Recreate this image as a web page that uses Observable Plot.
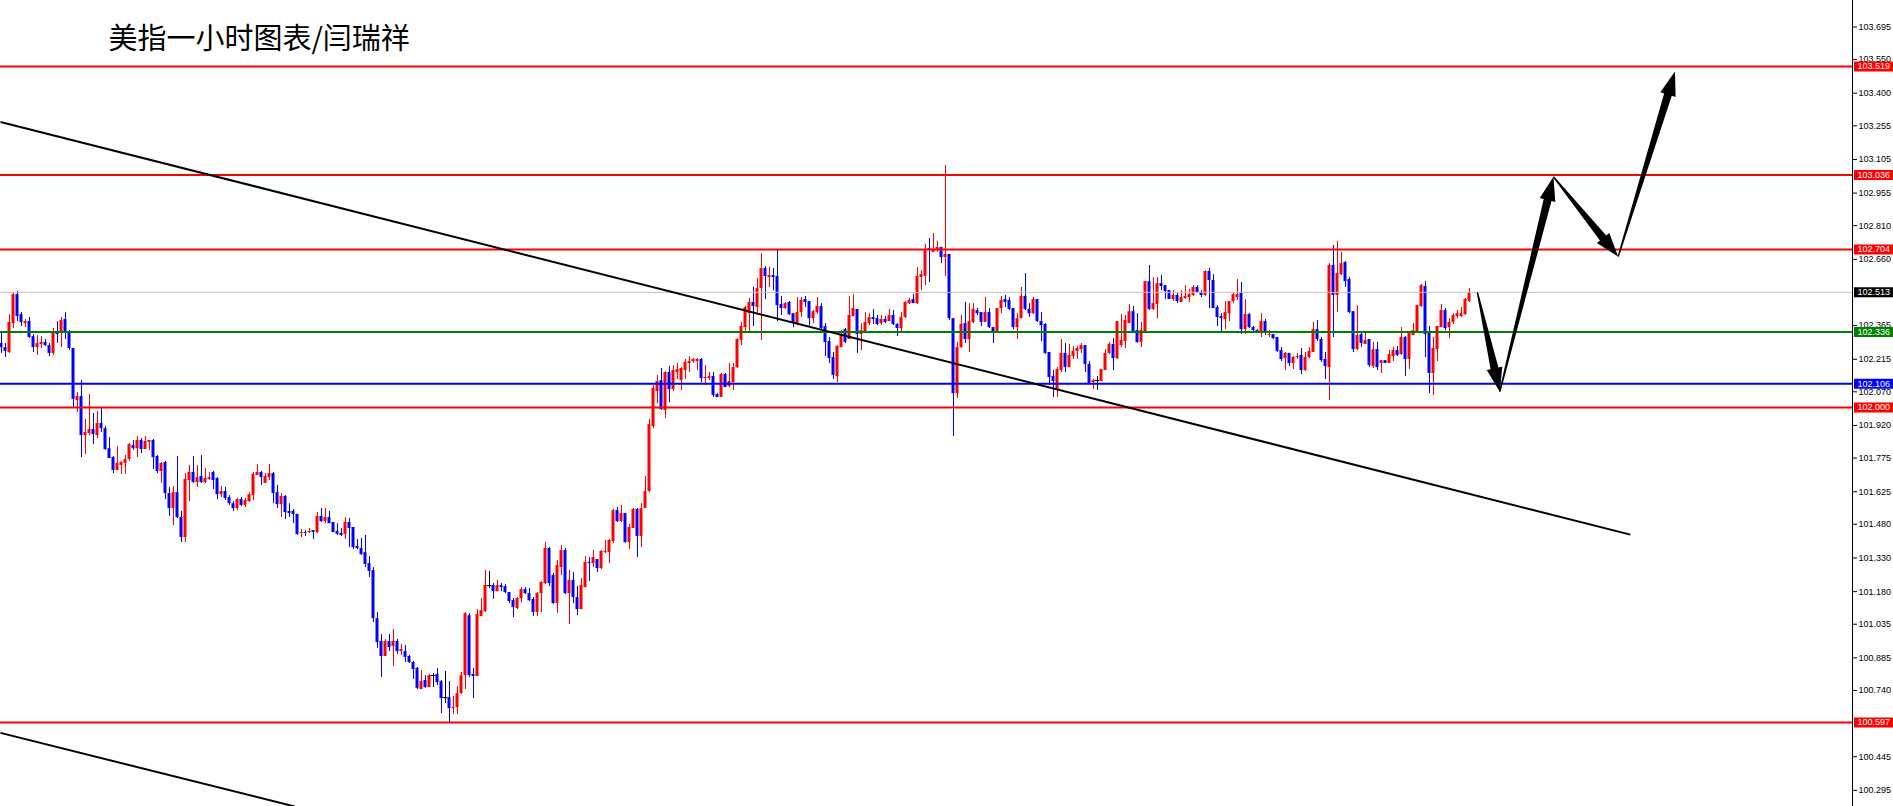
<!DOCTYPE html>
<html><head><meta charset="utf-8">
<script src="https://cdn.jsdelivr.net/npm/d3@7"></script>
<script src="https://cdn.jsdelivr.net/npm/@observablehq/plot@0.6"></script>
<style>
html,body{margin:0;padding:0;background:#fff;overflow:hidden}
#chart{position:relative;width:1893px;height:806px}
</style></head><body><div id="chart"></div>
<script>
const title = "美指一小时图表/闫瑞祥";

// hourly candles, oldest first
const opens = [
102.285,102.267,102.245,102.374,102.503,102.414,102.374,102.383,102.316,102.267,
102.281,102.290,102.276,102.241,102.334,102.330,102.392,102.334,102.263,102.031,
102.049,101.875,101.884,101.902,101.875,101.929,101.906,101.817,101.777,101.720,
101.742,101.751,101.769,101.831,101.817,101.853,101.813,101.844,101.853,101.782,
101.715,101.755,101.617,101.550,101.621,101.510,101.421,101.675,101.711,101.666,
101.693,101.666,101.680,101.711,101.684,101.612,101.626,101.599,101.572,101.550,
101.590,101.564,101.581,101.608,101.697,101.711,101.662,101.688,101.706,101.621,
101.568,101.604,101.537,101.537,101.524,101.439,101.443,101.443,101.452,101.443,
101.515,101.492,101.510,101.488,101.448,101.439,101.435,101.488,101.466,101.381,
101.372,101.354,101.305,101.274,101.060,100.958,100.891,100.958,100.936,100.958,
100.913,100.913,100.891,100.864,100.838,100.744,100.784,100.753,100.806,100.811,
100.780,100.708,100.708,100.659,100.664,100.726,100.806,101.073,100.811,100.802,
101.069,101.091,101.207,101.207,101.180,101.207,101.203,101.176,101.140,101.105,
101.149,101.189,101.171,101.145,101.087,101.171,101.216,101.372,101.252,101.127,
101.287,101.363,101.171,101.230,101.154,101.100,101.198,101.310,101.305,101.323,
101.283,101.354,101.354,101.403,101.541,101.492,101.528,101.399,101.461,101.546,
101.426,101.550,101.626,101.915,102.071,102.120,101.987,102.156,102.080,102.156,
102.120,102.165,102.196,102.205,102.205,102.214,102.129,102.129,102.138,102.058,
102.045,102.147,102.094,102.111,102.178,102.299,102.356,102.418,102.468,102.446,
102.530,102.619,102.579,102.588,102.584,102.459,102.441,102.468,102.418,102.370,
102.423,102.481,102.472,102.396,102.423,102.450,102.361,102.294,102.223,102.138,
102.267,102.347,102.303,102.405,102.437,102.325,102.330,102.374,102.401,102.396,
102.374,102.392,102.383,102.410,102.370,102.352,102.401,102.463,102.481,102.463,
102.579,102.584,102.708,102.691,102.704,102.713,102.668,102.682,102.396,102.062,
102.267,102.374,102.303,102.379,102.432,102.423,102.379,102.423,102.356,102.334,
102.441,102.481,102.477,102.441,102.356,102.396,102.495,102.437,102.418,102.481,
102.383,102.370,102.245,102.138,102.076,102.165,102.241,102.178,102.227,102.250,
102.258,102.276,102.192,102.111,102.120,102.116,102.165,102.241,102.281,102.218,
102.276,102.294,102.374,102.427,102.343,102.290,102.334,102.561,102.437,102.459,
102.552,102.543,102.521,102.481,102.499,102.468,102.486,102.490,102.499,102.535,
102.512,102.499,102.606,102.566,102.446,102.405,102.392,102.418,102.472,102.490,
102.512,102.347,102.414,102.356,102.343,102.334,102.383,102.321,102.325,102.312,
102.254,102.218,102.241,102.196,102.223,102.232,102.165,102.223,102.245,102.347,
102.303,102.214,102.178,102.633,102.499,102.592,102.646,102.570,102.427,102.258,
102.325,102.281,102.303,102.183,102.258,102.196,102.209,102.196,102.227,102.254,
102.236,102.312,102.214,102.321,102.334,102.450,102.539,102.330,102.152,102.258,
102.356,102.432,102.356,102.379,102.405,102.405,102.414,102.472];
const highs = [
102.334,102.285,102.414,102.508,102.517,102.423,102.392,102.401,102.325,102.321,
102.316,102.303,102.285,102.352,102.383,102.401,102.423,102.343,102.263,102.067,
102.120,101.947,102.058,101.973,101.982,102.000,101.915,101.866,101.782,101.826,
101.760,101.786,101.840,101.853,101.871,101.862,101.871,101.853,101.858,101.786,
101.755,101.760,101.644,101.648,101.782,101.537,101.706,101.742,101.782,101.742,
101.786,101.728,101.711,101.715,101.688,101.648,101.644,101.608,101.581,101.595,
101.599,101.595,101.621,101.711,101.746,101.715,101.706,101.746,101.711,101.653,
101.617,101.608,101.572,101.546,101.524,101.457,101.452,101.461,101.452,101.532,
101.550,101.550,101.537,101.488,101.483,101.461,101.510,101.506,101.466,101.412,
101.417,101.430,101.336,101.287,101.087,100.989,100.967,100.989,101.011,100.967,
100.944,100.940,100.896,100.869,100.842,100.829,100.806,100.811,100.815,100.838,
100.784,100.824,100.780,100.713,100.757,100.820,101.087,101.082,100.838,101.100,
101.149,101.274,101.270,101.216,101.230,101.216,101.212,101.176,101.149,101.154,
101.198,101.198,101.194,101.154,101.176,101.225,101.399,101.376,101.261,101.319,
101.385,101.372,101.274,101.265,101.203,101.238,101.336,101.332,101.363,101.323,
101.363,101.408,101.412,101.546,101.555,101.564,101.528,101.479,101.550,101.550,
101.572,101.693,101.947,102.098,102.143,102.174,102.160,102.183,102.187,102.196,
102.178,102.214,102.227,102.218,102.218,102.218,102.187,102.156,102.156,102.062,
102.152,102.152,102.196,102.196,102.307,102.379,102.450,102.486,102.535,102.575,
102.686,102.628,102.624,102.619,102.704,102.495,102.468,102.472,102.418,102.490,
102.490,102.495,102.472,102.432,102.490,102.463,102.374,102.312,102.245,102.276,
102.343,102.352,102.495,102.503,102.437,102.374,102.423,102.418,102.437,102.410,
102.410,102.405,102.437,102.432,102.374,102.423,102.472,102.486,102.503,102.624,
102.610,102.726,102.753,102.775,102.740,102.713,103.078,102.682,102.396,102.290,
102.410,102.468,102.463,102.463,102.441,102.423,102.490,102.441,102.356,102.441,
102.495,102.499,102.490,102.441,102.418,102.535,102.597,102.463,102.490,102.481,
102.423,102.374,102.245,102.165,102.178,102.303,102.285,102.281,102.272,102.272,
102.285,102.276,102.205,102.125,102.138,102.169,102.258,102.290,102.307,102.383,
102.414,102.410,102.459,102.450,102.418,102.379,102.561,102.633,102.579,102.579,
102.588,102.543,102.521,102.521,102.508,102.521,102.543,102.526,102.543,102.543,
102.521,102.610,102.619,102.592,102.454,102.418,102.472,102.472,102.512,102.570,
102.557,102.481,102.418,102.361,102.347,102.418,102.392,102.343,102.325,102.312,
102.267,102.245,102.241,102.227,102.241,102.263,102.245,102.267,102.379,102.388,
102.312,102.245,102.641,102.722,102.740,102.691,102.650,102.579,102.427,102.454,
102.330,102.330,102.303,102.290,102.290,102.209,102.209,102.254,102.267,102.272,
102.356,102.316,102.334,102.374,102.454,102.548,102.561,102.361,102.312,102.361,
102.459,102.441,102.396,102.418,102.432,102.446,102.486,102.530];
const lows = [
102.241,102.223,102.241,102.352,102.383,102.361,102.356,102.307,102.245,102.232,
102.263,102.272,102.227,102.232,102.285,102.267,102.303,102.254,102.000,101.978,
101.777,101.791,101.875,101.835,101.862,101.889,101.809,101.773,101.706,101.720,
101.702,101.702,101.760,101.809,101.777,101.795,101.813,101.809,101.724,101.706,
101.662,101.590,101.515,101.474,101.506,101.399,101.399,101.581,101.662,101.644,
101.662,101.662,101.675,101.635,101.590,101.599,101.586,101.564,101.537,101.541,
101.559,101.555,101.577,101.586,101.697,101.653,101.662,101.675,101.572,101.550,
101.510,101.501,101.510,101.483,101.430,101.421,101.426,101.439,101.412,101.439,
101.488,101.483,101.483,101.443,101.430,101.426,101.412,101.376,101.367,101.367,
101.341,101.287,101.243,101.042,100.927,100.798,100.891,100.913,100.846,100.900,
100.896,100.864,100.860,100.789,100.744,100.744,100.749,100.753,100.753,100.762,
100.637,100.682,100.593,100.633,100.633,100.722,100.744,100.798,100.704,100.802,
101.069,101.087,101.194,101.145,101.180,101.180,101.171,101.127,101.065,101.100,
101.131,101.167,101.136,101.069,101.069,101.087,101.212,101.203,101.123,101.082,
101.252,101.167,101.033,101.127,101.073,101.100,101.198,101.225,101.287,101.265,
101.278,101.350,101.305,101.394,101.488,101.488,101.394,101.367,101.461,101.332,
101.376,101.550,101.621,101.906,102.018,101.987,101.951,102.022,102.071,102.125,
102.076,102.125,102.156,102.196,102.165,102.111,102.098,102.120,102.045,102.045,
102.045,102.089,102.089,102.076,102.174,102.276,102.334,102.334,102.361,102.410,
102.299,102.481,102.535,102.521,102.383,102.410,102.437,102.410,102.356,102.365,
102.401,102.446,102.356,102.374,102.414,102.347,102.227,102.196,102.125,102.111,
102.267,102.285,102.303,102.405,102.241,102.254,102.330,102.365,102.370,102.365,
102.365,102.374,102.383,102.365,102.316,102.330,102.396,102.459,102.463,102.459,
102.521,102.543,102.557,102.691,102.691,102.641,102.584,102.388,101.871,102.040,
102.263,102.285,102.245,102.374,102.410,102.361,102.379,102.352,102.285,102.334,
102.418,102.446,102.432,102.347,102.303,102.396,102.432,102.401,102.414,102.379,
102.294,102.236,102.098,102.045,102.045,102.156,102.156,102.178,102.214,102.214,
102.241,102.156,102.107,102.080,102.076,102.116,102.165,102.236,102.165,102.214,
102.267,102.263,102.374,102.334,102.285,102.267,102.334,102.432,102.432,102.396,
102.521,102.481,102.481,102.472,102.463,102.468,102.481,102.468,102.495,102.508,
102.490,102.495,102.441,102.441,102.361,102.339,102.347,102.383,102.463,102.477,
102.325,102.325,102.352,102.334,102.330,102.312,102.321,102.312,102.303,102.245,
102.205,102.165,102.183,102.169,102.214,102.147,102.160,102.218,102.245,102.294,
102.201,102.125,102.031,102.312,102.423,102.588,102.535,102.418,102.245,102.254,
102.267,102.281,102.178,102.174,102.165,102.152,102.196,102.196,102.205,102.227,
102.232,102.138,102.169,102.321,102.334,102.446,102.223,102.062,102.054,102.205,
102.356,102.343,102.307,102.370,102.396,102.401,102.410,102.468];
const closes = [
102.267,102.250,102.379,102.503,102.405,102.379,102.383,102.312,102.267,102.285,
102.290,102.276,102.241,102.334,102.325,102.388,102.330,102.263,102.036,102.049,
101.875,101.889,101.902,101.880,101.929,101.906,101.813,101.773,101.720,101.751,
101.755,101.769,101.835,101.817,101.853,101.813,101.849,101.853,101.777,101.715,
101.751,101.617,101.550,101.621,101.510,101.421,101.680,101.711,101.666,101.688,
101.666,101.684,101.688,101.675,101.612,101.626,101.595,101.572,101.550,101.590,
101.564,101.586,101.612,101.702,101.711,101.688,101.693,101.706,101.617,101.568,
101.604,101.532,101.528,101.524,101.435,101.443,101.439,101.448,101.443,101.515,
101.492,101.510,101.483,101.443,101.435,101.430,101.488,101.461,101.376,101.372,
101.345,101.301,101.270,101.060,100.953,100.891,100.958,100.931,100.958,100.913,
100.922,100.887,100.864,100.833,100.749,100.780,100.753,100.806,100.806,100.775,
100.704,100.708,100.659,100.664,100.726,100.806,101.082,100.806,100.802,101.078,
101.096,101.207,101.207,101.180,101.207,101.198,101.176,101.136,101.109,101.149,
101.189,101.171,101.140,101.087,101.171,101.221,101.372,101.216,101.127,101.296,
101.363,101.171,101.230,101.154,101.100,101.207,101.310,101.305,101.332,101.283,
101.359,101.359,101.408,101.541,101.492,101.528,101.399,101.466,101.546,101.426,
101.550,101.626,101.924,102.085,102.116,101.991,102.156,102.080,102.165,102.169,
102.174,102.201,102.205,102.214,102.214,102.129,102.134,102.138,102.054,102.045,
102.147,102.089,102.116,102.178,102.303,102.361,102.446,102.468,102.450,102.530,
102.619,102.584,102.588,102.579,102.454,102.441,102.463,102.414,102.374,102.423,
102.477,102.468,102.396,102.427,102.450,102.352,102.290,102.218,102.143,102.272,
102.321,102.290,102.410,102.441,102.325,102.343,102.379,102.401,102.392,102.370,
102.392,102.379,102.410,102.370,102.352,102.401,102.468,102.477,102.463,102.584,
102.592,102.704,102.699,102.704,102.713,102.668,102.682,102.396,102.062,102.267,
102.370,102.303,102.383,102.437,102.418,102.379,102.423,102.356,102.334,102.441,
102.477,102.468,102.437,102.356,102.396,102.495,102.437,102.418,102.481,102.383,
102.365,102.241,102.134,102.116,102.169,102.241,102.178,102.232,102.250,102.263,
102.276,102.192,102.107,102.120,102.120,102.169,102.241,102.281,102.218,102.383,
102.299,102.388,102.427,102.334,102.290,102.343,102.561,102.437,102.463,102.552,
102.539,102.517,102.481,102.499,102.472,102.490,102.495,102.503,102.535,102.512,
102.499,102.606,102.566,102.441,102.401,102.396,102.423,102.472,102.503,102.503,
102.347,102.414,102.356,102.343,102.330,102.383,102.330,102.325,102.307,102.250,
102.214,102.241,102.196,102.223,102.227,102.165,102.223,102.250,102.347,102.303,
102.209,102.183,102.633,102.499,102.597,102.641,102.561,102.423,102.258,102.321,
102.285,102.299,102.187,102.258,102.178,102.209,102.196,102.236,102.254,102.232,
102.312,102.214,102.330,102.343,102.454,102.543,102.325,102.152,102.263,102.361,
102.432,102.352,102.379,102.410,102.418,102.418,102.481,102.512];

// horizontal levels
const redLevels = [103.519, 103.036, 102.704, 102.000, 100.597];
const greenLevels = [102.336];
const blueLevels = [102.106];
const lastPrice = [102.513];
const levelTags = [
  {v: 103.519, color: "#ff0000"}, {v: 103.036, color: "#ff0000"},
  {v: 102.704, color: "#ff0000"}, {v: 102.513, color: "#000000"},
  {v: 102.336, color: "#008000"}, {v: 102.106, color: "#0000ff"},
  {v: 102.000, color: "#ff0000"}, {v: 100.597, color: "#ff0000"}
];
// price axis tick labels
const yTicks = [103.695,103.550,103.400,103.255,103.105,102.955,102.810,102.660,
  102.365,102.215,102.070,101.920,101.775,101.625,101.480,101.330,101.180,101.035,
  100.885,100.740,100.445,100.295];
// trend lines (bar index, price)
const trendLines = [
  {x1: -0.25, y1: 103.272, x2: 407.2, y2: 101.434},
  {x1: -0.25, y1: 100.551, x2: 73.3, y2: 100.223}
];
// forecast zig-zag (bar index, price)
const forecastX = [369.1, 374.7, 388.1, 404.3, 418.5];
const forecastY = [102.511, 102.068, 103.026, 102.670, 103.494];

// visible window
const xDomain = [-0.25, 462.75];
const yDomain = [100.223, 103.813];

const bars = opens.map((o, i) => ({i, o, h: highs[i], l: lows[i], c: closes[i]}));
const col = d => d.c > d.o ? "#ff0000" : d.c < d.o ? "#0000ff" : "#000000";
const bodies = bars.filter(d => d.o !== d.c);
const dojis = bars.filter(d => d.o === d.c);
const xEnd = xDomain[1];

const plot = Plot.plot({
  width: 1893, height: 806,
  marginLeft: 0, marginRight: 41, marginTop: 0, marginBottom: 0,
  style: {background: "#fff", color: "#000", fontFamily: "'Liberation Sans', Arial, sans-serif", fontSize: "9px"},
  x: {domain: xDomain, axis: null},
  y: {domain: yDomain, axis: "right", ticks: yTicks, tickFormat: d => d.toFixed(3), tickSize: 4, tickPadding: 2, label: null},
  marks: [
    Plot.ruleX(bars, {x: "i", y1: "l", y2: "h", stroke: col, strokeWidth: 1}),
    Plot.rect(bodies, {x1: d => d.i - 0.375, x2: d => d.i + 0.375, y1: "o", y2: "c", fill: col}),
    Plot.ruleY(dojis, {y: "o", x1: d => d.i - 0.6, x2: d => d.i + 0.6, stroke: "#000"}),
    Plot.ruleY(lastPrice, {stroke: "#c0c0c0", strokeWidth: 1}),
    Plot.ruleY(redLevels, {stroke: "#ff0000", strokeWidth: 2}),
    Plot.ruleY(greenLevels, {stroke: "#008000", strokeWidth: 2}),
    Plot.ruleY(blueLevels, {stroke: "#0000ff", strokeWidth: 2}),
    Plot.link(trendLines, {x1: "x1", y1: "y1", x2: "x2", y2: "y2", stroke: "#000", strokeWidth: 2, clip: true}),
    Plot.ruleX([xEnd], {stroke: "#000", strokeWidth: 1}),
    Plot.ruleY(levelTags, {y: "v", x1: xEnd + 0.5, x2: xEnd + 10.5, stroke: "color", strokeWidth: 10}),
    Plot.text(levelTags, {y: "v", x: xEnd, dx: 5, textAnchor: "start", fill: "#fff", fontSize: 9, text: d => d.v.toFixed(3)}),
    Plot.text([title], {frameAnchor: "top-left", dx: 108, dy: 39, lineAnchor: "middle", textAnchor: "start",
      text: d => d, fontSize: 29, fontFamily: "'Noto Sans CJK SC', sans-serif", fill: "#000"})
  ]
});
document.getElementById("chart").appendChild(plot);

// tapered forecast arrows, positioned through Plot's scales
const sx = plot.scale("x"), sy = plot.scale("y");
const pts = forecastX.map((x, k) => [sx.apply(x), sy.apply(forecastY[k])]);
const g = d3.select(plot).append("g").attr("fill", "#000");
for (let k = 0; k < pts.length - 1; k++) {
  const [x0, y0] = pts[k], [x1, y1] = pts[k + 1];
  const dx = x1 - x0, dy = y1 - y0, L = Math.hypot(dx, dy);
  const ux = dx / L, uy = dy / L, nx = -uy, ny = ux;
  const HL = 24, HW = 8, SW = 4, S0 = 0.7;
  const bx = x1 - ux * HL, by = y1 - uy * HL;
  const poly = [
    [x0 + nx * S0, y0 + ny * S0], [bx + nx * SW, by + ny * SW], [bx + nx * HW, by + ny * HW],
    [x1, y1], [bx - nx * HW, by - ny * HW], [bx - nx * SW, by - ny * SW], [x0 - nx * S0, y0 - ny * S0]
  ];
  g.append("path").attr("d", "M" + poly.map(p => p.join(",")).join("L") + "Z");
}
</script></body></html>
